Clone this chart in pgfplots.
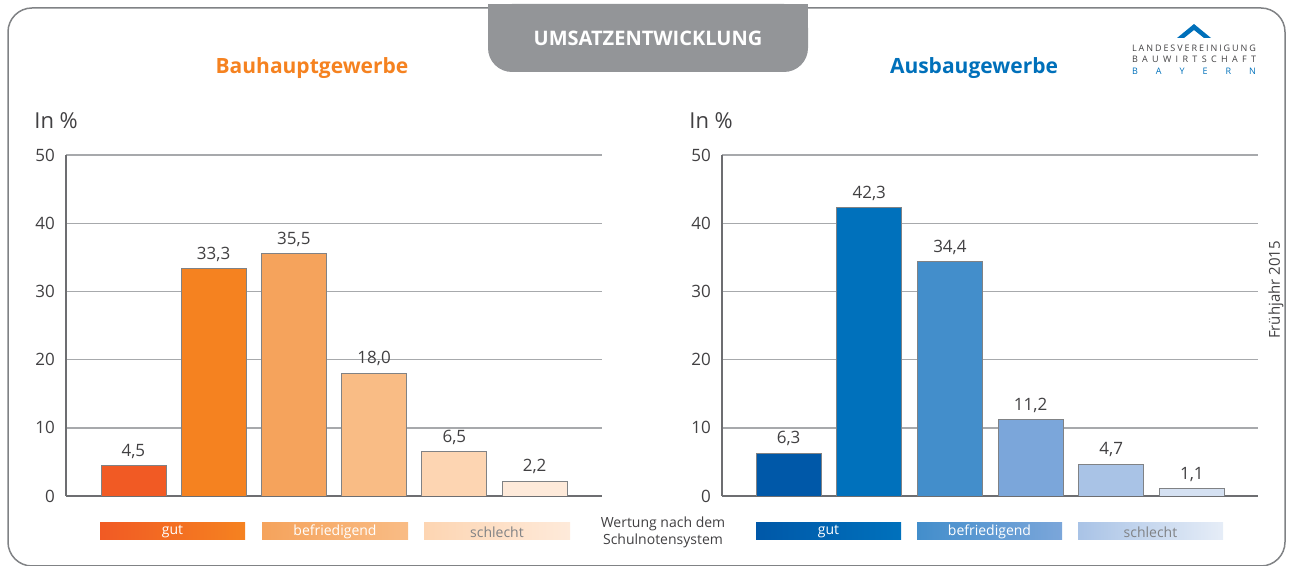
\documentclass[border=0pt]{standalone}
\usepackage{fontspec}
\setmainfont{Open Sans}
\usepackage{pgfplots}
\pgfplotsset{compat=1.18}
\definecolor{textgray}{HTML}{414042}
\definecolor{framegray}{HTML}{808285}
\definecolor{tabgray}{HTML}{939598}
\definecolor{gridgray}{HTML}{A7A9AC}
\definecolor{axisgray}{HTML}{6D6E71}
\definecolor{bargray}{HTML}{808285}
\definecolor{orangeT}{HTML}{F58220}
\definecolor{blueT}{HTML}{0070BA}
\definecolor{oa}{HTML}{F15A24}
\definecolor{ob}{HTML}{F58220}
\definecolor{oc}{HTML}{F5A35C}
\definecolor{od}{HTML}{F9BC85}
\definecolor{oe}{HTML}{FDD5B2}
\definecolor{of}{HTML}{FEEADA}
\definecolor{ba}{HTML}{0058A8}
\definecolor{bb}{HTML}{0071BC}
\definecolor{bc}{HTML}{438ECB}
\definecolor{bd}{HTML}{7BA6DA}
\definecolor{be}{HTML}{A9C3E6}
\definecolor{bf}{HTML}{D5E1F2}

\pgfplotsset{
  bauaxis/.style={
    scale only axis, anchor=south west,
    width=268pt, height=170.5pt,
    ymin=0, ymax=50, ytick={0,10,...,50}, xtick=\empty,
    axis x line*=bottom, axis y line*=left,
    axis line style={-, draw=axisgray, line width=0.8pt},
    ymajorgrids, grid style={draw=gridgray, line width=0.7pt},
    major tick length=0pt,
    /pgf/number format/assume math mode=true,
    tick label style={font=\fontsize{8.5}{10}\selectfont, text=textgray},
    yticklabel style={xshift=-2pt},
    ybar, bar width=32.5pt, bar shift=0pt,
    every axis plot/.append style={draw=bargray, line width=0.4pt, bar shift=0pt},
    nodes near coords,
    nodes near coords style={font=\fontsize{8.5}{10}\selectfont, text=textgray,
      /pgf/number format/.cd, fixed, fixed zerofill, precision=1, use comma, assume math mode=true},
  }
}

\begin{document}
\begin{tikzpicture}[x=0.5pt, y=-0.5pt]
% frame
\draw[framegray, line width=0.75pt, rounded corners=12pt] (8,8) rectangle (1285,566);
% tab
\fill[tabgray, rounded corners=12pt] (488,4) -- (488,72) -- (808,72) -- (808,4) -- cycle;
\fill[tabgray] (488,4) rectangle (808,30);
\node[text=white, font=\bfseries\fontsize{10}{12}\selectfont] at (648,38) {UMSATZENTWICKLUNG};
% titles
\node[text=orangeT, font=\bfseries\fontsize{10.5}{12}\selectfont] at (312,68) {Bauhauptgewerbe};
\node[text=blueT, font=\bfseries\fontsize{10.5}{12}\selectfont] at (974,68) {Ausbaugewerbe};
\node[anchor=west, inner sep=0, text=textgray, font=\fontsize{11}{13}\selectfont] at (34,121) {In \%};
\node[anchor=west, inner sep=0, text=textgray, font=\fontsize{11}{13}\selectfont] at (689,121) {In \%};
\node[rotate=90, text=textgray, font=\fontsize{7.5}{9}\selectfont] at (1276,290) {Frühjahr 2015};
% logo
\fill[blueT] (1177,38) -- (1194,24) -- (1211,38) -- (1204,38) -- (1194,30) -- (1184,38) -- cycle;
\node[inner sep=0, text=textgray, font=\fontsize{4.5}{5}\selectfont] at (1194,48)
  {\makebox[62pt][s]{L\hfill A\hfill N\hfill D\hfill E\hfill S\hfill V\hfill E\hfill R\hfill E\hfill I\hfill N\hfill I\hfill G\hfill U\hfill N\hfill G}};
\node[inner sep=0, text=textgray, font=\fontsize{4.5}{5}\selectfont] at (1194,59)
  {\makebox[62pt][s]{B\hfill A\hfill U\hfill W\hfill I\hfill R\hfill T\hfill S\hfill C\hfill H\hfill A\hfill F\hfill T}};
\node[inner sep=0, text=blueT, font=\fontsize{4.5}{5}\selectfont] at (1194,71)
  {\makebox[62pt][s]{B\hfill A\hfill Y\hfill E\hfill R\hfill N}};

% left chart
\begin{axis}[bauaxis, at={(33pt,-248pt)}, xmin=-0.84, xmax=5.84]
\addplot[fill=oa] coordinates {(0,4.5)};
\addplot[fill=ob] coordinates {(1,33.3)};
\addplot[fill=oc] coordinates {(2,35.5)};
\addplot[fill=od] coordinates {(3,18.0)};
\addplot[fill=oe] coordinates {(4,6.5)};
\addplot[fill=of] coordinates {(5,2.2)};
\end{axis}

% right chart
\begin{axis}[bauaxis, at={(361pt,-248pt)}, xmin=-0.826, xmax=5.82]
\addplot[fill=ba] coordinates {(0,6.3)};
\addplot[fill=bb] coordinates {(1,42.3)};
\addplot[fill=bc] coordinates {(2,34.4)};
\addplot[fill=bd] coordinates {(3,11.2)};
\addplot[fill=be] coordinates {(4,4.7)};
\addplot[fill=bf] coordinates {(5,1.1)};
\end{axis}

% legend bars
\shade[left color=oa, right color=ob] (100,523) rectangle (245,540);
\shade[left color=oc, right color=od] (262,523) rectangle (408,540);
\shade[left color=oe, right color=of] (424,523) rectangle (570,540);
\shade[left color=ba, right color=bb] (756,523) rectangle (901,540);
\shade[left color=bc, right color=bd] (917,523) rectangle (1062,540);
\shade[left color=be, right color=bf!60] (1078,523) rectangle (1223,540);
\begin{scope}[every node/.style={font=\fontsize{7}{8}\selectfont}]
\node[text=white] at (172.5,532) {gut};
\node[text=white] at (335,532) {befriedigend};
\node[text=framegray] at (497,532) {schlecht};
\node[text=white] at (828.5,532) {gut};
\node[text=white] at (989.5,532) {befriedigend};
\node[text=framegray] at (1150.5,532) {schlecht};
\node[text=textgray, align=center, font=\fontsize{7}{8.6}\selectfont] at (663,532) {Wertung nach dem\\Schulnotensystem};
\end{scope}

\pgfresetboundingbox
\path (0,0) rectangle (1292,566);
\end{tikzpicture}
\end{document}
